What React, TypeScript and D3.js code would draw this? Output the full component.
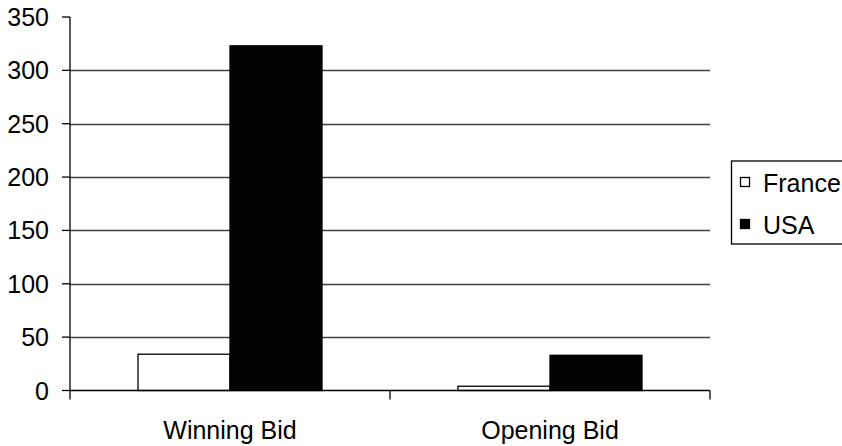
import React from "react";
import * as d3 from "d3";

const categories = ["Winning Bid", "Opening Bid"];
const seriesNames = ["France", "USA"];
const france = [34, 4];
const usa = [323, 33];
const yTicks = [0, 50, 100, 150, 200, 250, 300, 350];

const W = 842;
const H = 446;
const FONT = "'Liberation Sans', Arial, sans-serif";

export default function App() {
  const left = 70, right = 710, top = 17, bottom = 390.5;
  const y = d3.scaleLinear().domain([0, 350]).range([bottom, top]);
  const x0 = d3.scaleBand<string>().domain(categories).range([left, right]).paddingInner(0).paddingOuter(0);
  const x1 = d3.scaleBand<string>().domain(seriesNames).range([0, 184]);
  const groupOffset = (x0.bandwidth() - 184) / 2;
  const values: Record<string, number[]> = { France: france, USA: usa };
  const fills: Record<string, string> = { France: "#fff", USA: "#000" };

  return (
    <svg width={W} height={H} style={{ position: "absolute", left: 0, top: 0, background: "#fff" }} fontFamily={FONT}>
      {yTicks.filter((t) => t > 0 && t < 350).map((t) => (
        <line key={"g" + t} x1={left} x2={right} y1={Math.round(y(t)) + 0.5} y2={Math.round(y(t)) + 0.5} stroke="#404040" strokeWidth={1.3} />
      ))}
      {categories.map((c, i) =>
        seriesNames.map((s) => {
          const v = values[s][i];
          const xx = (x0(c) as number) + groupOffset + (x1(s) as number);
          return (
            <rect key={c + s} x={xx} y={y(v)} width={x1.bandwidth()} height={bottom - y(v)} fill={fills[s]} stroke="#000" strokeWidth={1.3} />
          );
        })
      )}
      <line x1={left} x2={left} y1={top} y2={bottom} stroke="#000" strokeWidth={1.3} />
      <line x1={left} x2={right} y1={bottom} y2={bottom} stroke="#000" strokeWidth={1.3} />
      {yTicks.map((t) => (
        <g key={"t" + t}>
          <line x1={left - 8} x2={left} y1={y(t)} y2={y(t)} stroke="#000" strokeWidth={1.3} />
          <text x={49} y={y(t)} dy="0.36em" textAnchor="end" fontSize={25} fill="#000">{t}</text>
        </g>
      ))}
      {[left, left + x0.bandwidth(), right].map((xv, i) => (
        <line key={"xt" + i} x1={xv} x2={xv} y1={bottom} y2={bottom + 9} stroke="#000" strokeWidth={1.3} />
      ))}
      {categories.map((c) => (
        <text key={"c" + c} x={(x0(c) as number) + x0.bandwidth() / 2} y={439} textAnchor="middle" fontSize={25} fill="#000">{c}</text>
      ))}
      <rect x={731.5} y={161} width={140} height={83} fill="#fff" stroke="#000" strokeWidth={1.3} />
      {seriesNames.map((s, i) => (
        <g key={"l" + s}>
          <rect x={740.5} y={177.5 + i * 42} width={9} height={9} fill={fills[s]} stroke="#000" strokeWidth={1.3} />
          <text x={763} y={192 + i * 42} fontSize={25} fill="#000">{s}</text>
        </g>
      ))}
    </svg>
  );
}
